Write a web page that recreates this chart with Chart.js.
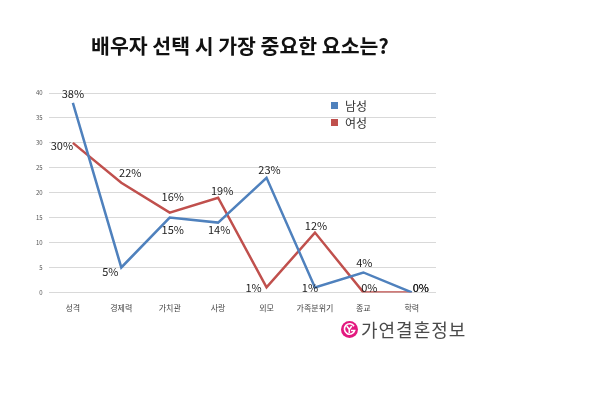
<!DOCTYPE html>
<html>
<head>
<meta charset="utf-8">
<script src="https://cdn.jsdelivr.net/npm/chart.js@4"></script>
<style>
  body { margin: 0; background: #fff; }
  #wrap { position: relative; width: 600px; height: 399px; overflow: hidden; }
  #box { position: absolute; left: 0; top: 0; width: 480px; height: 399px; }
  #title { position: absolute; left: 0; top: 33px; width: 480px; text-align: center; line-height: 24px;
           font-family: "Noto Sans CJK KR", sans-serif; font-size: 20.5px; font-weight: bold; color: #111; }
  #logo { position: absolute; left: 341px; top: 316px; display: flex; align-items: center;
          font-family: "Noto Sans CJK KR", sans-serif; font-size: 18px; color: #4a4a4a; letter-spacing: 1px; }
  #logo svg { margin-right: 3px; }
</style>
</head>
<body>
<div id="wrap">
  <div id="box"><canvas id="chart"></canvas></div>
  <div id="title"></div>
  <div id="logo">
    <svg width="17" height="17" viewBox="0 0 17 17">
      <circle cx="8.5" cy="8.5" r="8.5" fill="#e3187f"/>
      <path d="M13 5.2 A5.2 5.2 0 1 0 13.6 9.5 L10 9.5" fill="none" stroke="#fff" stroke-width="1.6"/>
      <path d="M5.8 5 L8.3 8.4 L10.8 5 M8.3 8.4 L8.3 12" fill="none" stroke="#fff" stroke-width="1.6"/>
    </svg>
    <span>가연결혼정보</span>
  </div>
</div>
<script>
const chartTitle = '배우자 선택 시 가장 중요한 요소는?';
const categories = ['성격', '경제력', '가치관', '사랑', '외모', '가족분위기', '종교', '학력'];
const maleValues = [38, 5, 15, 14, 23, 1, 4, 0];
const femaleValues = [30, 22, 16, 19, 1, 12, 0, 0];
const yTicks = [0, 5, 10, 15, 20, 25, 30, 35, 40];

// label placement relative to each point (dx, dy)
const maleLabelPos = [[0, -9], [-11, 4], [3, 12], [1, 7], [3, -8], [-5, 0], [1, -10], [9, -5]];
const femaleLabelPos = [[-11, 3], [9, -10], [3, -16], [4, -7], [-13, 0], [1, -7], [6, -5], [9, -5]];

const FONT = '"Noto Sans CJK KR", "Noto Sans", sans-serif';

document.getElementById('title').textContent = chartTitle;

const pointLabels = {
  id: 'pointLabels',
  afterDatasetsDraw(chart) {
    const ctx = chart.ctx;
    ctx.save();
    ctx.font = '11px ' + FONT;
    ctx.fillStyle = '#222';
    ctx.textAlign = 'center';
    ctx.textBaseline = 'middle';
    chart.data.datasets.forEach((ds, di) => {
      const meta = chart.getDatasetMeta(di);
      meta.data.forEach((pt, i) => {
        const off = ds.labelPos[i];
        ctx.fillText(ds.data[i] + '%', pt.x + off[0], pt.y + off[1]);
      });
    });
    ctx.restore();
  }
};

const boxLegend = {
  id: 'boxLegend',
  afterDraw(chart) {
    const ctx = chart.ctx;
    ctx.save();
    ctx.font = '12px ' + FONT;
    ctx.textBaseline = 'middle';
    chart.data.datasets.forEach((ds, i) => {
      const y = 106 + i * 17;
      ctx.fillStyle = ds.borderColor;
      ctx.fillRect(331, y - 4, 7, 7);
      ctx.fillStyle = '#333';
      ctx.fillText(ds.label, 345, y);
    });
    ctx.restore();
  }
};

new Chart(document.getElementById('chart'), {
  type: 'line',
  data: {
    labels: categories,
    datasets: [
      { label: '남성', data: maleValues, labelPos: maleLabelPos, borderColor: '#4f81bd', borderWidth: 2.5, pointRadius: 0, tension: 0 },
      { label: '여성', data: femaleValues, labelPos: femaleLabelPos, borderColor: '#c0504d', borderWidth: 2.5, pointRadius: 0, tension: 0 }
    ]
  },
  options: {
    responsive: true,
    maintainAspectRatio: false,
    animation: false,
    layout: { padding: { top: 93, left: 30, right: 44, bottom: 83 } },
    plugins: {
      legend: { display: false },
      tooltip: { enabled: false },
      title: { display: false }
    },
    scales: {
      x: {
        offset: true,
        grid: { display: false },
        border: { display: false },
        ticks: { color: '#444', padding: 3, font: { family: FONT, size: 8 } }
      },
      y: {
        min: 0,
        max: 40,
        afterBuildTicks: (axis) => { axis.ticks = yTicks.map(v => ({ value: v })); },
        grid: { color: '#d9d9d9', drawTicks: false },
        border: { display: false },
        ticks: { color: '#555', padding: 6, font: { family: FONT, size: 6 } }
      }
    }
  },
  plugins: [pointLabels, boxLegend]
});
</script>
</body>
</html>
